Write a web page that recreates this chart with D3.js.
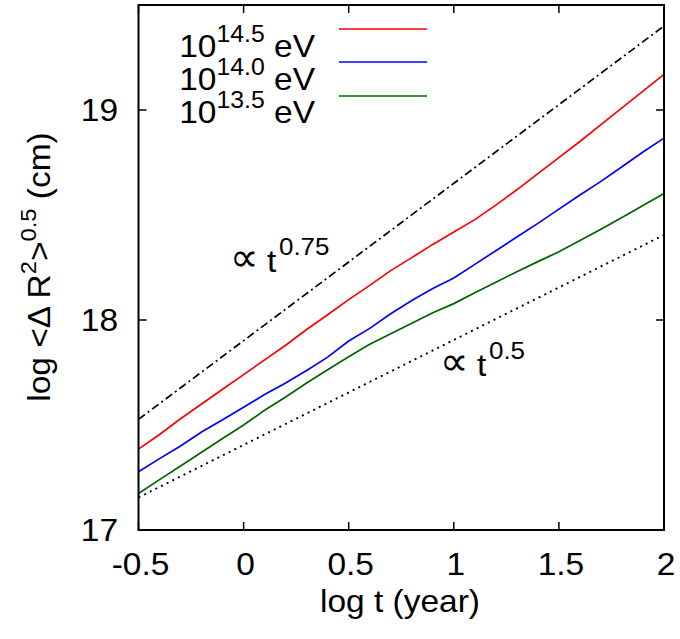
<!DOCTYPE html>
<html><head><meta charset="utf-8">
<script src="https://cdn.jsdelivr.net/npm/d3@7"></script>
<style>
html,body{margin:0;padding:0;background:#fff;}
text{font-family:"Liberation Sans",Arial,Helvetica,sans-serif;fill:#000;}
</style></head>
<body><svg id="c" width="680" height="639"></svg>
<script>
// ---- data ----
const xs = [-0.5,-0.4,-0.3,-0.2,-0.1,0,0.1,0.2,0.3,0.4,0.5,0.6,0.7,0.8,0.9,1.0,1.1,1.2,1.3,1.4,1.5,1.6,1.7,1.8,1.9,2.0];
const e145 = [17.385,17.455,17.53,17.60,17.67,17.74,17.81,17.88,17.955,18.025,18.097,18.165,18.235,18.297,18.36,18.419,18.478,18.547,18.62,18.697,18.773,18.85,18.93,19.01,19.09,19.17];
const e140 = [17.277,17.34,17.40,17.467,17.525,17.585,17.645,17.70,17.76,17.823,17.90,17.96,18.03,18.093,18.15,18.20,18.265,18.33,18.395,18.46,18.528,18.595,18.66,18.73,18.80,18.866];
const e135 = [17.174,17.24,17.305,17.37,17.436,17.50,17.57,17.633,17.70,17.763,17.825,17.885,17.935,17.985,18.035,18.078,18.13,18.18,18.23,18.278,18.325,18.378,18.432,18.488,18.545,18.602];
const refX = [-0.5, 2.0];
const ref075 = [17.527, 19.40];
const ref05 = [17.155, 18.405];
const seriesNames = [["10","14.5"," eV"],["10","14.0"," eV"],["10","13.5"," eV"]];
const seriesColors = ["#ff0000","#0000ff","#006400"];
const xTicks = [-0.5,0,0.5,1,1.5,2];
const xTickLabels = ["-0.5","0","0.5","1","1.5","2"];
const yTicks = [17,18,19];
const yTickLabels = ["17","18","19"];

// ---- layout ----
const svg = d3.select("#c");
const L=138.5, R=664, T=5, B=530;
const x = d3.scaleLinear().domain([-0.5,2]).range([L,R]);
const y = d3.scaleLinear().domain([17,19.5]).range([B,T]);
const FS = 31, SUP = 22, SX = 1.08;

function txt(px,py,anchor,size){
  return svg.append("text").attr("transform",`translate(${px},${py}) scale(${SX},1)`)
    .attr("text-anchor",anchor).attr("font-size",size);
}

// ticks (inward, mirrored)
const tk = 8;
const g = svg.append("g").attr("stroke","#000").attr("stroke-width",1.5);
xTicks.forEach(v=>{
  g.append("line").attr("x1",x(v)).attr("x2",x(v)).attr("y1",B).attr("y2",B-tk);
  g.append("line").attr("x1",x(v)).attr("x2",x(v)).attr("y1",T).attr("y2",T+tk);
});
yTicks.forEach(v=>{
  g.append("line").attr("x1",L).attr("x2",L+tk).attr("y1",y(v)).attr("y2",y(v));
  g.append("line").attr("x1",R).attr("x2",R-tk).attr("y1",y(v)).attr("y2",y(v));
});

// tick labels
xTicks.forEach((v,i)=>{ txt(x(v)+2,575,"middle",FS).text(xTickLabels[i]); });
yTicks.forEach((v,i)=>{ txt(118,y(v)+11,"end",FS).text(yTickLabels[i]); });

// axis titles
txt(400,612,"middle",FS).text("log t (year)");
const yt = svg.append("text").attr("transform",`translate(50,267) rotate(-90) scale(${SX},1)`)
  .attr("text-anchor","middle").attr("font-size",FS);
yt.append("tspan").text("log <\u0394 R");
yt.append("tspan").attr("dy",-14).attr("font-size",SUP).text("2");
yt.append("tspan").attr("dy",14).text(">");
yt.append("tspan").attr("dy",-14).attr("font-size",SUP).text("0.5");
yt.append("tspan").attr("dy",14).text(" (cm)");

// reference lines
const line = d3.line().x(d=>x(d[0])).y(d=>y(d[1]));
svg.append("path").datum(refX.map((v,i)=>[v,ref075[i]])).attr("d",line)
  .attr("fill","none").attr("stroke","#000").attr("stroke-width",1.7)
  .attr("stroke-dasharray","8,3.5,2,3.5");
svg.append("path").datum(refX.map((v,i)=>[v,ref05[i]])).attr("d",line)
  .attr("fill","none").attr("stroke","#000").attr("stroke-width",1.9)
  .attr("stroke-dasharray","2,4.3");

// data lines
[e145,e140,e135].forEach((s,k)=>{
  svg.append("path").datum(xs.map((v,i)=>[v,s[i]])).attr("d",line)
    .attr("fill","none").attr("stroke",seriesColors[k]).attr("stroke-width",1.7);
});

// annotations
function powLabel(px,py,exp){
  svg.append("text").attr("x",px-2).attr("y",py-1).attr("font-size",40)
    .style("font-family","'DejaVu Sans'").text("\u221d");
  txt(px+35,py,"start",FS).text("t");
  txt(px+47,py-17,"start",24).text(exp);
}
powLabel(232,272,"0.75");
powLabel(442,376,"0.5");

// legend
const legY = [57,90,123];
const legLineY = [29,62,96];
seriesNames.forEach((n,k)=>{
  const t = txt(315,legY[k],"end",FS);
  t.append("tspan").text(n[0]);
  t.append("tspan").attr("dy",-15).attr("font-size",SUP+1).text(n[1]);
  t.append("tspan").attr("dy",15).text(n[2]);
  svg.append("line").attr("x1",339).attr("x2",427).attr("y1",legLineY[k]).attr("y2",legLineY[k])
    .attr("stroke",seriesColors[k]).attr("stroke-width",1.7);
});

// frame
svg.append("rect").attr("x",L).attr("y",T).attr("width",R-L).attr("height",B-T)
  .attr("fill","none").attr("stroke","#000").attr("stroke-width",2);
</script></body></html>
